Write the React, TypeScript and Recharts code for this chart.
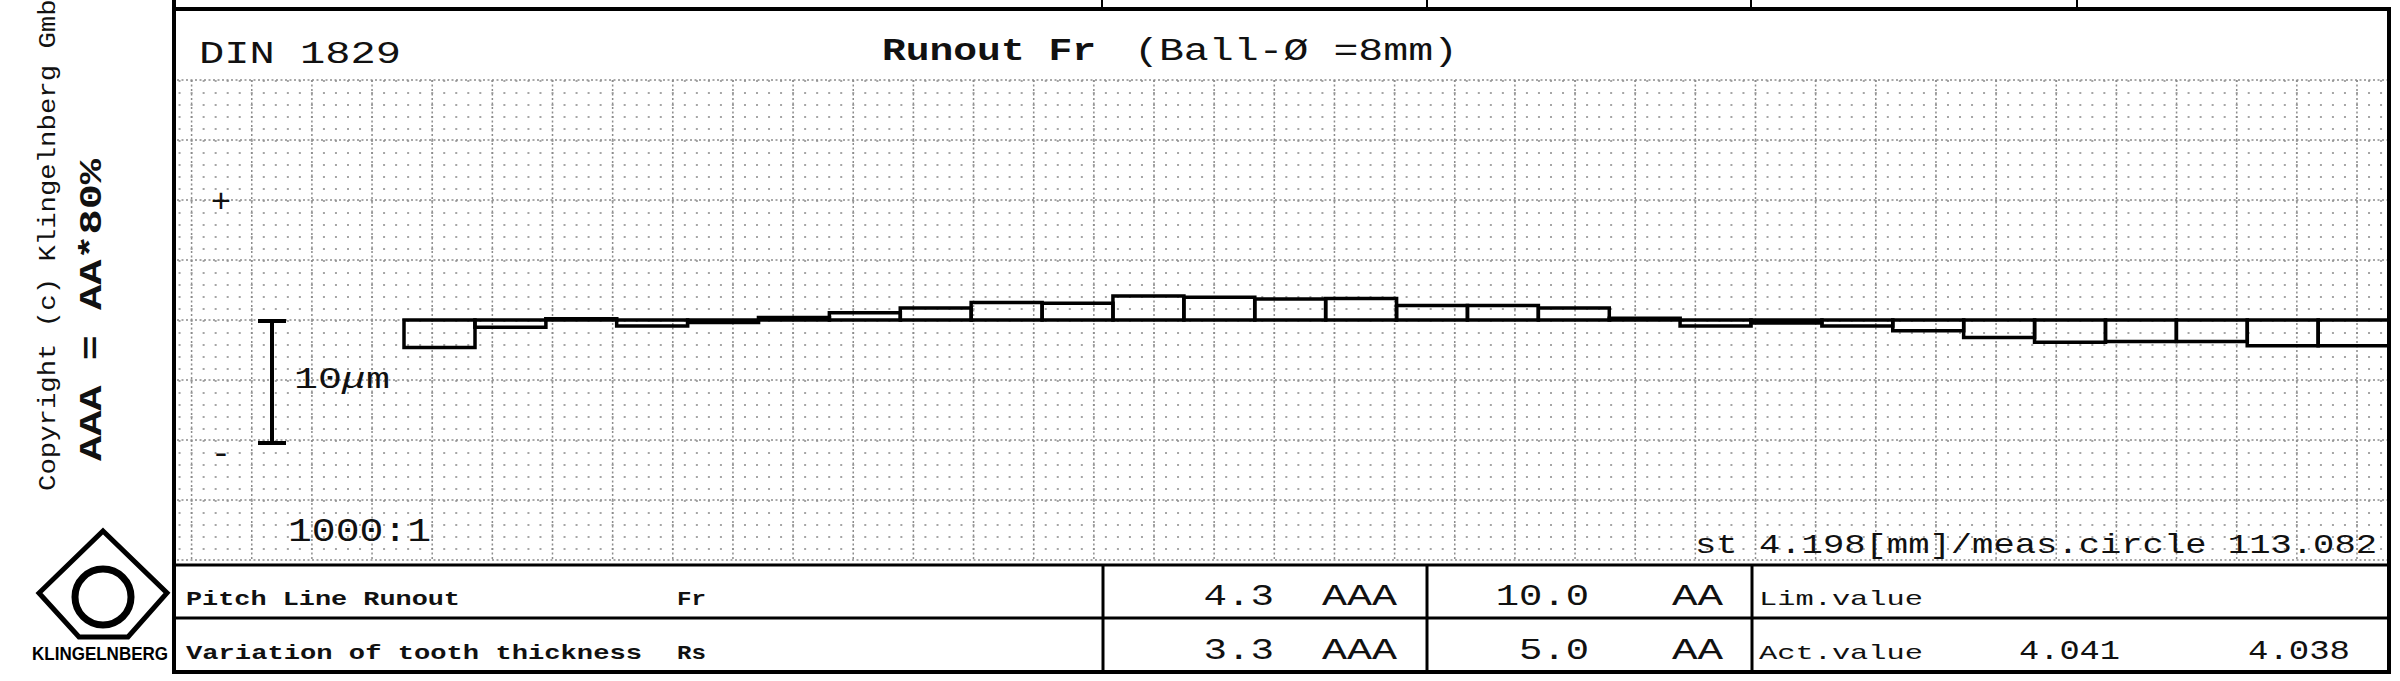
import { Bar, BarChart, CartesianGrid, XAxis, YAxis } from "recharts"

const teeth = [1, 2, 3, 4, 5, 6, 7, 8, 9, 10, 11, 12, 13, 14, 15, 16, 17, 18, 19, 20, 21, 22, 23, 24, 25, 26, 27, 28]
const runout = [-2.3, -0.6, 0.1, -0.5, -0.2, 0.2, 0.6, 1.0, 1.45, 1.4, 2.0, 1.9, 1.75, 1.8, 1.2, 1.2, 1.0, 0.15, -0.5, -0.25, -0.5, -0.9, -1.45, -1.85, -1.8, -1.8, -2.15, -2.15]
const yDomain = [-20, 20]
const majorY = [-20, -15, -10, -5, 0, 5, 10, 15, 20]

// table contents
const rowLabels = ["Pitch Line Runout", "Variation of tooth thickness"]
const rowSymbols = ["Fr", "Rs"]
const actValues = ["4.3", "3.3"]
const actClasses = ["AAA", "AAA"]
const limValues = ["10.0", "5.0"]
const limClasses = ["AA", "AA"]
const infoLabels = ["Lim.value", "Act.value"]
const circleValues = ["4.041", "4.038"]

const W = 2400
const H = 681
const MONO = "'Liberation Mono', 'DejaVu Sans Mono', monospace"
const INK = "#111"

const chartData = teeth.map((t, i) => ({ tooth: t, fr: runout[i] }))

const GRID_X0 = 14.6 // first major vertical line, px from plot left
const GRID_STEP = 60.15

const ToothBar = (props: any) => {
 const { x, y, width, height } = props
 if (x == null || y == null) return null
 const top = Math.min(y, y + height)
 const h = Math.abs(height)
 return <path d={`M${x},${top}h${width}v${h}h${-width}Z`} fill="none" stroke="#000" strokeWidth={3.5} />
}

const Txt = ({ x, y, s, len, bold, children, anchor }: any) => (
 <text
  x={x}
  y={y}
  fontSize={s}
  fontFamily={MONO}
  fontWeight={bold ? 700 : 400}
  textLength={len}
  lengthAdjust="spacingAndGlyphs"
  textAnchor={anchor}
  fill={INK}
 >
  {children}
 </text>
)

const Overlay = () => (
 <svg width={W} height={H} style={{ position: "absolute", left: 0, top: 0, pointerEvents: "none" }}>
  {/* frame */}
  <g stroke="#000" fill="none">
   <line x1={174} y1={0} x2={174} y2={674} strokeWidth={4} />
   <line x1={2389} y1={7} x2={2389} y2={674} strokeWidth={4} />
   <line x1={172} y1={9} x2={2391} y2={9} strokeWidth={4} />
   <line x1={172} y1={672} x2={2391} y2={672} strokeWidth={4} />
   <line x1={174} y1={565} x2={2389} y2={565} strokeWidth={3} />
   <line x1={174} y1={618} x2={2389} y2={618} strokeWidth={3} />
   <line x1={1103} y1={565} x2={1103} y2={672} strokeWidth={3} />
   <line x1={1427} y1={565} x2={1427} y2={672} strokeWidth={3} />
   <line x1={1752} y1={565} x2={1752} y2={672} strokeWidth={3} />
   {[1102, 1427, 1751, 2077].map(x => <line key={x} x1={x} y1={0} x2={x} y2={9} strokeWidth={2} />)}
   {/* 10 µm scale bar */}
   <line x1={272} y1={321} x2={272} y2={443} strokeWidth={4} />
   <line x1={258} y1={321} x2={286} y2={321} strokeWidth={4} />
   <line x1={258} y1={443} x2={286} y2={443} strokeWidth={4} />
  </g>

  {/* header */}
  <g fill="#333">
   <Txt x={199} y={63} s={32} len={202}>DIN 1829</Txt>
  </g>
  <Txt x={882} y={60} s={31} len={214} bold>Runout Fr</Txt>
  <Txt x={1134} y={60} s={31} len={324}>(Ball-Ø =8mm)</Txt>

  <Txt x={221} y={212} s={34} anchor="middle">+</Txt>
  <Txt x={221} y={464} s={34} anchor="middle">-</Txt>
  <text x={294} y={388} fontSize={30} fontFamily={MONO} fill={INK} textLength={96} lengthAdjust="spacingAndGlyphs">
   10<tspan fontStyle="italic">μ</tspan>m
  </text>
  <Txt x={288} y={541} s={34} len={143}>1000:1</Txt>
  <Txt x={1695} y={553} s={28} len={682}>st 4.198[mm]/meas.circle 113.082</Txt>

  {/* table */}
  {rowLabels.map((label, i) => {
   const y = i === 0 ? 605 : 659
   return (
    <g key={label}>
     <Txt x={186} y={y} s={21} len={i === 0 ? 274 : 456} bold>{label}</Txt>
     <Txt x={677} y={y} s={21} len={29} bold>{rowSymbols[i]}</Txt>
     <Txt x={1274} y={y} s={29} len={actValues[i].length * 23.5} anchor="end">{actValues[i]}</Txt>
     <Txt x={1322} y={y} s={29} len={75}>{actClasses[i]}</Txt>
     <Txt x={1589} y={y} s={29} len={limValues[i].length * 23.3} anchor="end">{limValues[i]}</Txt>
     <Txt x={1672} y={y} s={29} len={51}>{limClasses[i]}</Txt>
     <Txt x={1759} y={y} s={21} len={164}>{infoLabels[i]}</Txt>
    </g>
   )
  })}
  <Txt x={2019} y={659} s={27} len={101}>{circleValues[0]}</Txt>
  <Txt x={2248} y={659} s={27} len={102}>{circleValues[1]}</Txt>

  {/* side labels */}
  <text transform="translate(55,491) rotate(-90)" fontSize={24} fontFamily={MONO} fill={INK} textLength={508} lengthAdjust="spacingAndGlyphs">
   Copyright (c) Klingelnberg GmbH
  </text>
  <text transform="translate(101,461) rotate(-90)" fontSize={32} fontWeight={700} fontFamily={MONO} fill={INK} textLength={302} lengthAdjust="spacingAndGlyphs">
   AAA = AA*80%
  </text>

  {/* logo */}
  <polygon points="103,531 167,593 128,637 79,637 39,593" fill="none" stroke="#000" strokeWidth={5} strokeLinejoin="miter" />
  <circle cx={103} cy={597} r={28} fill="none" stroke="#000" strokeWidth={7} />
  <text x={32} y={660} fontSize={18} fontWeight={700} fontFamily="'Liberation Sans', Arial, sans-serif" fill="#000" textLength={136} lengthAdjust="spacingAndGlyphs">
   KLINGELNBERG
  </text>
 </svg>
)

export default function App() {
 const minorVerticals = ({ offset }: any) => {
  const out: number[] = []
  const step = GRID_STEP / 5
  let x = offset.left + GRID_X0
  while (x - step > offset.left) x -= step
  for (; x < offset.left + offset.width; x += step) out.push(x)
  return out
 }
 const majorVerticals = ({ offset }: any) => {
  const out: number[] = []
  for (let x = offset.left + GRID_X0; x < offset.left + offset.width; x += GRID_STEP) out.push(x)
  return out
 }

 return (
  <div style={{ position: "absolute", left: 0, top: 0, width: W, height: H, background: "#fff" }}>
   <BarChart
    width={W}
    height={H}
    data={chartData}
    margin={{ top: 80, right: 11, bottom: 121, left: 177 }}
    barCategoryGap={0}
   >
    <CartesianGrid horizontal={false} verticalCoordinatesGenerator={minorVerticals} stroke="#a6a6a6" strokeWidth={2} strokeDasharray="2 10" />
    <CartesianGrid horizontal={false} verticalCoordinatesGenerator={majorVerticals} stroke="#8c8c8c" strokeWidth={1.5} strokeDasharray="2 2.5" />
    <CartesianGrid vertical={false} horizontalValues={majorY} stroke="#8c8c8c" strokeWidth={1.5} strokeDasharray="2 2.5" />
    <XAxis dataKey="tooth" hide padding={{ left: 227, right: 0 }} />
    <YAxis hide type="number" domain={yDomain} allowDataOverflow />
    <Bar dataKey="fr" shape={<ToothBar />} isAnimationActive={false} />
   </BarChart>
   <Overlay />
  </div>
 )
}
